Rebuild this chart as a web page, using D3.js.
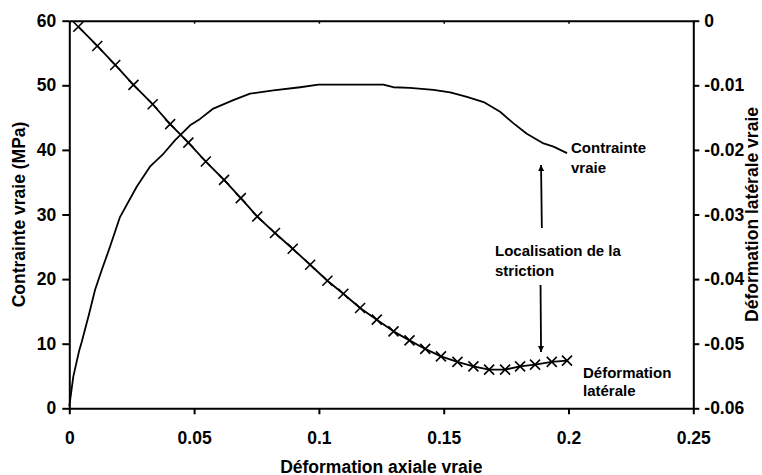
<!DOCTYPE html>
<html>
<head>
<meta charset="utf-8">
<script src="https://cdn.jsdelivr.net/npm/d3@7"></script>
<style>
  html, body { margin: 0; padding: 0; background: #fff; }
  svg { display: block; }
  text { font-family: "Liberation Sans", Arial, sans-serif; font-weight: bold; fill: #000; }
</style>
</head>
<body>
<svg id="chart" width="762" height="475"></svg>
<script>
// ---- Data ----
const stressStrain = [0,0.0016,0.004,0.005,0.008,0.0103,0.013,0.0163,0.0203,0.027,0.0323,0.0377,0.0424,0.0484,0.0524,0.0577,0.0657,0.0724,0.0818,0.0925,0.0998,0.1085,0.1258,0.1298,0.1365,0.1459,0.1526,0.1593,0.166,0.1726,0.178,0.1833,0.19,0.194,0.1994];
const stressValues = [0.3,4.9,9.0,10.3,14.7,18.3,21.4,25,29.6,34.3,37.4,39.4,41.5,43.8,44.8,46.4,47.7,48.7,49.2,49.7,50.1,50.1,50.1,49.7,49.6,49.3,48.9,48.2,47.4,45.9,44.1,42.5,41.0,40.5,39.5];

const lateralStrain = [0.0036,0.0112,0.0184,0.0257,0.0334,0.0404,0.0477,0.0547,0.0620,0.0687,0.0753,0.0824,0.0895,0.0965,0.1034,0.1098,0.1165,0.1232,0.1299,0.1363,0.1426,0.1489,0.1555,0.1619,0.1682,0.1746,0.1806,0.1866,0.1933,0.1994];
const lateralValues = [-0.00093,-0.00391,-0.00685,-0.00994,-0.01293,-0.01602,-0.01887,-0.02180,-0.02463,-0.02746,-0.03031,-0.03287,-0.03530,-0.03778,-0.04025,-0.04226,-0.04447,-0.04628,-0.04809,-0.04948,-0.05081,-0.05196,-0.05282,-0.05350,-0.05401,-0.05401,-0.05350,-0.05324,-0.05282,-0.05262];

const xTicks = [0,0.05,0.1,0.15,0.2,0.25];
const xTickLabels = ["0","0.05","0.1","0.15","0.2","0.25"];
const yLeftTicks = [0,10,20,30,40,50,60];
const yRightTicks = [0,-0.01,-0.02,-0.03,-0.04,-0.05,-0.06];
const yRightTickLabels = ["0","-0.01","-0.02","-0.03","-0.04","-0.05","-0.06"];

const xTitle = "Déformation axiale vraie";
const yLeftTitle = "Contrainte vraie (MPa)";
const yRightTitle = "Déformation latérale vraie";

// ---- Layout ----
const L = 69.3, R = 693.3, T = 20.7, B = 408.3;
const svg = d3.select("#chart");

const x = d3.scaleLinear().domain([0,0.25]).range([L,R]);
const yL = d3.scaleLinear().domain([0,60]).range([B,T]);
const yR = d3.scaleLinear().domain([-0.06,0]).range([B,T]);

function styleAxis(g, fs) {
  g.selectAll("path.domain").attr("stroke","#000").attr("stroke-width",2);
  g.selectAll(".tick line").attr("stroke","#000").attr("stroke-width",2);
  g.selectAll(".tick text").attr("font-size",fs).attr("font-family","Liberation Sans, Arial, sans-serif").attr("font-weight","bold").attr("fill","#000");
}

// Top border with small inward ticks
const gTop = svg.append("g").attr("transform",`translate(0,${T})`)
  .call(d3.axisTop(x).tickValues(xTicks).tickSize(-3).tickSizeOuter(0).tickFormat(""));
styleAxis(gTop, 0);
gTop.selectAll(".tick line").attr("stroke-width",1.5);

// Bottom axis
const gB = svg.append("g").attr("transform",`translate(0,${B})`)
  .call(d3.axisBottom(x).tickValues(xTicks).tickSize(6).tickSizeOuter(0).tickPadding(17)
    .tickFormat((d,i) => xTickLabels[i]));
styleAxis(gB, "17.5px");

// Left axis
const gL = svg.append("g").attr("transform",`translate(${L},0)`)
  .call(d3.axisLeft(yL).tickValues(yLeftTicks).tickSize(7).tickSizeOuter(0).tickPadding(6));
styleAxis(gL, "17.5px");

// Right axis
const gR = svg.append("g").attr("transform",`translate(${R},0)`)
  .call(d3.axisRight(yR).tickValues(yRightTicks).tickSize(6).tickSizeOuter(0).tickPadding(5)
    .tickFormat((d,i) => yRightTickLabels[i]));
styleAxis(gR, "17.5px");

// Axis titles
svg.append("text").attr("x",(L+R)/2).attr("y",472.5).attr("text-anchor","middle")
  .attr("font-size","17.5px").text(xTitle);
svg.append("text").attr("transform",`translate(25.3,${(T+B)/2}) rotate(-90)`).attr("text-anchor","middle")
  .attr("font-size","17.5px").text(yLeftTitle);
svg.append("text").attr("transform",`translate(757.5,${(T+B)/2}) rotate(-90)`).attr("text-anchor","middle")
  .attr("font-size","17.5px").text(yRightTitle);

// Stress curve
const stressData = stressStrain.map((e,i) => [e, stressValues[i]]);
svg.append("path").datum(stressData)
  .attr("fill","none").attr("stroke","#000").attr("stroke-width",1.8).attr("stroke-linejoin","round")
  .attr("d", d3.line().x(d => x(d[0])).y(d => yL(d[1])));

// Lateral strain curve with X markers
const latData = lateralStrain.map((e,i) => [e, lateralValues[i]]);
svg.append("path").datum(latData)
  .attr("fill","none").attr("stroke","#000").attr("stroke-width",1.8).attr("stroke-linejoin","round")
  .attr("d", d3.line().x(d => x(d[0])).y(d => yR(d[1])));
svg.append("g").selectAll("path").data(latData).join("path")
  .attr("transform", d => `translate(${x(d[0])},${yR(d[1])})`)
  .attr("d","M-5,-5L5,5M-5,5L5,-5")
  .attr("stroke","#000").attr("stroke-width",1.6).attr("fill","none");

// Annotations
function label(lines, xx, yy, lh) {
  const t = svg.append("text").attr("font-size","15px");
  lines.forEach((s,i) => t.append("tspan").attr("x",xx).attr("y",yy + i*lh).text(s));
}
label(["Contrainte","vraie"], 571, 153, 20);
label(["Localisation de la","striction"], 495, 256, 20);
label(["Déformation","latérale"], 583, 378, 18);

// Arrows
const defs = svg.append("defs");
defs.append("marker").attr("id","ah").attr("viewBox","0 0 10 10").attr("refX",10).attr("refY",5)
  .attr("markerWidth",6).attr("markerHeight",6).attr("markerUnits","userSpaceOnUse").attr("orient","auto")
  .append("path").attr("d","M0,0L10,5L0,10Z").attr("fill","#000");
const arrowX = x(0.189);
svg.append("line").attr("x1",arrowX+0.8).attr("y1",228).attr("x2",arrowX).attr("y2",165)
  .attr("stroke","#000").attr("stroke-width",1.8).attr("marker-end","url(#ah)");
svg.append("line").attr("x1",arrowX-0.5).attr("y1",285).attr("x2",arrowX).attr("y2",352)
  .attr("stroke","#000").attr("stroke-width",1.8).attr("marker-end","url(#ah)");
</script>
</body>
</html>
